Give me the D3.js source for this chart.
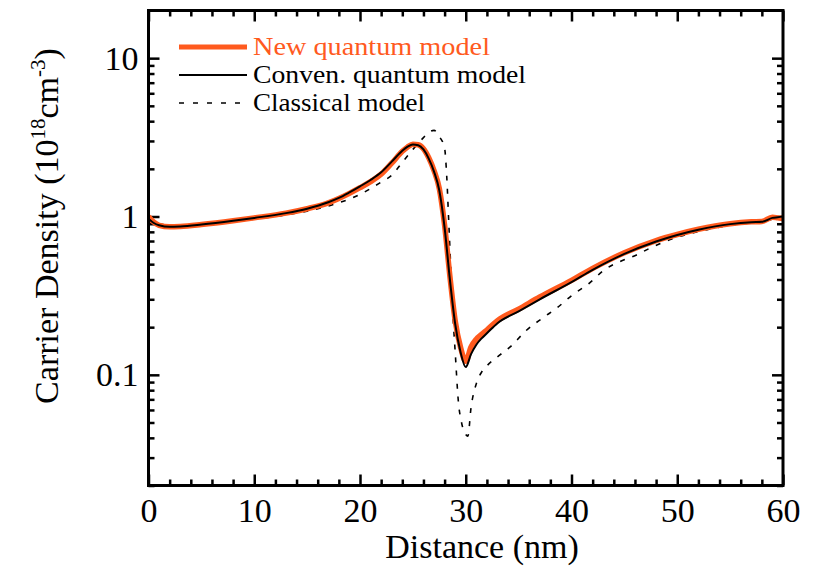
<!DOCTYPE html>
<html>
<head>
<meta charset="utf-8">
<script src="https://cdn.jsdelivr.net/npm/d3@7"></script>
<style>
  body { margin: 0; background: #fff; }
  svg { display: block; }
</style>
</head>
<body>
<svg id="chart" width="817" height="567"></svg>
<script>
// Carrier density profiles across the device (x in nm, density in 1e18 cm^-3)
const newQuantumX = [0, 0.5, 1, 2, 3, 5, 8, 10, 13, 15, 17, 18, 19, 20, 21, 22, 23, 24, 24.5, 25, 25.5, 26, 26.5, 27, 27.5, 28, 28.5, 29, 29.5, 30, 30.5, 31, 31.5, 32, 33, 35, 37, 40, 42, 45, 48, 50, 52, 55, 57, 58, 59, 59.5, 60];
const newQuantumY = [1.0, 0.92, 0.88, 0.86, 0.865, 0.89, 0.94, 0.98, 1.05, 1.12, 1.22, 1.3, 1.4, 1.52, 1.66, 1.85, 2.17, 2.58, 2.75, 2.86, 2.84, 2.68, 2.35, 1.95, 1.5, 0.88, 0.42, 0.22, 0.15, 0.122, 0.15, 0.168, 0.18, 0.192, 0.22, 0.26, 0.31, 0.395, 0.47, 0.59, 0.705, 0.77, 0.83, 0.9, 0.925, 0.93, 0.99, 0.98, 0.97];

const convQuantumX = [0, 0.5, 1, 2, 3, 5, 8, 10, 13, 15, 17, 18, 19, 20, 21, 22, 23, 24, 24.5, 25, 25.5, 26, 26.5, 27, 27.5, 28, 28.5, 29, 29.5, 30, 30.5, 31, 31.5, 32, 33, 35, 37, 40, 42, 45, 48, 50, 52, 55, 57, 58, 59, 59.5, 60];
const convQuantumY = [0.97, 0.91, 0.88, 0.86, 0.865, 0.89, 0.94, 0.98, 1.05, 1.12, 1.23, 1.31, 1.42, 1.55, 1.7, 1.9, 2.22, 2.6, 2.76, 2.85, 2.82, 2.65, 2.32, 1.92, 1.46, 0.85, 0.4, 0.21, 0.14, 0.112, 0.135, 0.155, 0.17, 0.183, 0.212, 0.252, 0.3, 0.385, 0.46, 0.58, 0.695, 0.765, 0.825, 0.895, 0.92, 0.925, 0.98, 0.99, 1.0];

const classicalX = [0, 1, 2, 4, 8, 12, 16, 18, 20, 21, 22, 23, 24, 25, 26, 26.5, 27, 27.5, 28, 28.2, 28.4, 28.6, 28.8, 29, 29.3, 29.6, 30, 30.2, 30.5, 31, 31.5, 32, 33, 34.2, 35.7, 37.3, 38.6, 40.1, 41.7, 43.1, 44.6, 46.1, 47.4, 50, 53, 56, 58, 59, 60];
const classicalY = [0.93, 0.9, 0.88, 0.88, 0.93, 1.0, 1.12, 1.22, 1.38, 1.5, 1.65, 1.82, 2.2, 2.65, 3.15, 3.4, 3.5, 3.2, 2.7, 1.8, 0.9, 0.45, 0.23, 0.14, 0.068, 0.05, 0.042, 0.041, 0.062, 0.088, 0.104, 0.114, 0.13, 0.15, 0.19, 0.229, 0.264, 0.32, 0.38, 0.46, 0.52, 0.57, 0.63, 0.74, 0.83, 0.9, 0.925, 0.96, 0.99];

const xTicks = [0, 10, 20, 30, 40, 50, 60];
const xMinorTicks = [2, 4, 6, 8, 12, 14, 16, 18, 22, 24, 26, 28, 32, 34, 36, 38, 42, 44, 46, 48, 52, 54, 56, 58];
const yTicks = [0.1, 1, 10];
const yTickLabels = ["0.1", "1", "10"];
const yMinorTicks = [0.02, 0.03, 0.04, 0.05, 0.06, 0.07, 0.08, 0.09, 0.2, 0.3, 0.4, 0.5, 0.6, 0.7, 0.8, 0.9, 2, 3, 4, 5, 6, 7, 8, 9];

const legendLabels = ["New quantum model", "Conven. quantum model", "Classical model"];

const ORANGE = "#FF5A1E";
const SERIF = "'Liberation Serif', 'Times New Roman', serif";

const svg = d3.select("#chart");
const plotLeft = 148.5, plotRight = 783, plotTop = 10.5, plotBottom = 485.5;

const x = d3.scaleLinear().domain([0, 60]).range([plotLeft, plotRight]);
const y = d3.scaleLog().domain([0.02, 20]).range([plotBottom, plotTop]);

const majorLen = 11, minorLen = 6;

function styleAxis(g) {
  g.select(".domain").remove();
  g.attr("font-family", SERIF);
  g.selectAll(".tick line").attr("stroke", "#000").attr("stroke-width", 2.5);
  g.selectAll(".tick text").attr("font-size", 34).attr("fill", "#000");
}

// bottom axis with labels
svg.append("g").attr("transform", `translate(0,${plotBottom})`)
  .call(d3.axisBottom(x).tickValues(xTicks).tickSize(-majorLen).tickPadding(12).tickFormat(d3.format("d")))
  .call(styleAxis);
svg.append("g").attr("transform", `translate(0,${plotBottom})`)
  .call(d3.axisBottom(x).tickValues(xMinorTicks).tickSize(-minorLen).tickFormat(""))
  .call(styleAxis);
// top axis ticks
svg.append("g").attr("transform", `translate(0,${plotTop})`)
  .call(d3.axisTop(x).tickValues(xTicks).tickSize(-majorLen).tickFormat(""))
  .call(styleAxis);
svg.append("g").attr("transform", `translate(0,${plotTop})`)
  .call(d3.axisTop(x).tickValues(xMinorTicks).tickSize(-minorLen).tickFormat(""))
  .call(styleAxis);

// left axis with labels
svg.append("g").attr("transform", `translate(${plotLeft},0)`)
  .call(d3.axisLeft(y).tickValues(yTicks).tickSize(-majorLen).tickPadding(10).tickFormat((d, i) => yTickLabels[i]))
  .call(styleAxis);
svg.append("g").attr("transform", `translate(${plotLeft},0)`)
  .call(d3.axisLeft(y).tickValues(yMinorTicks).tickSize(-minorLen).tickFormat(""))
  .call(styleAxis);
// right axis ticks
svg.append("g").attr("transform", `translate(${plotRight},0)`)
  .call(d3.axisRight(y).tickValues(yTicks).tickSize(-majorLen).tickFormat(""))
  .call(styleAxis);
svg.append("g").attr("transform", `translate(${plotRight},0)`)
  .call(d3.axisRight(y).tickValues(yMinorTicks).tickSize(-minorLen).tickFormat(""))
  .call(styleAxis);

// curves
const line = d3.line().x(d => x(d[0])).y(d => y(d[1])).curve(d3.curveMonotoneX);
const zip = (xs, ys) => xs.map((v, i) => [v, ys[i]]);

svg.append("clipPath").attr("id", "plotclip")
  .append("rect").attr("x", plotLeft).attr("y", plotTop)
  .attr("width", plotRight - plotLeft).attr("height", plotBottom - plotTop);

const plot = svg.append("g").attr("clip-path", "url(#plotclip)");
plot.append("path").datum(zip(classicalX, classicalY))
  .attr("d", line).attr("fill", "none").attr("stroke", "#000")
  .attr("stroke-width", 1.6).attr("stroke-dasharray", "5,8");
plot.append("path").datum(zip(newQuantumX, newQuantumY))
  .attr("d", line).attr("fill", "none").attr("stroke", ORANGE)
  .attr("stroke-width", 5.5).attr("stroke-linejoin", "round");
plot.append("path").datum(zip(convQuantumX, convQuantumY))
  .attr("d", line).attr("fill", "none").attr("stroke", "#000")
  .attr("stroke-width", 2);

// frame
svg.append("rect").attr("x", plotLeft).attr("y", plotTop)
  .attr("width", plotRight - plotLeft).attr("height", plotBottom - plotTop)
  .attr("fill", "none").attr("stroke", "#000").attr("stroke-width", 3);

// legend
const legend = svg.append("g").attr("font-family", SERIF);
const legendRows = [
  { label: legendLabels[0], color: ORANGE, width: 5, dash: null, y: 47, len: 237 },
  { label: legendLabels[1], color: "#000", width: 2, dash: null, y: 75, len: 273 },
  { label: legendLabels[2], color: "#000", width: 1.6, dash: "5,9", y: 103, len: 172 }
];
legendRows.forEach(r => {
  legend.append("line").attr("x1", 179).attr("x2", 247).attr("y1", r.y).attr("y2", r.y)
    .attr("stroke", r.color).attr("stroke-width", r.width)
    .attr("stroke-dasharray", r.dash);
  legend.append("text").attr("x", 253).attr("y", r.y + 8)
    .attr("font-size", 26).attr("fill", r.color)
    .attr("textLength", r.len).attr("lengthAdjust", "spacingAndGlyphs")
    .text(r.label);
});

// axis titles
svg.append("text").attr("x", 482).attr("y", 558).attr("text-anchor", "middle")
  .attr("font-family", SERIF).attr("font-size", 34).attr("fill", "#000")
  .text("Distance (nm)");

const yTitle = svg.append("text")
  .attr("transform", "translate(58,226) rotate(-90)")
  .attr("text-anchor", "middle").attr("font-family", SERIF)
  .attr("font-size", 34).attr("fill", "#000");
yTitle.append("tspan").text("Carrier Density (10");
yTitle.append("tspan").attr("font-size", 21).attr("dy", -13).text("18");
yTitle.append("tspan").attr("dy", 13).text("cm");
yTitle.append("tspan").attr("font-size", 21).attr("dy", -13).text("-3");
yTitle.append("tspan").attr("dy", 13).text(")");
</script>
</body>
</html>
